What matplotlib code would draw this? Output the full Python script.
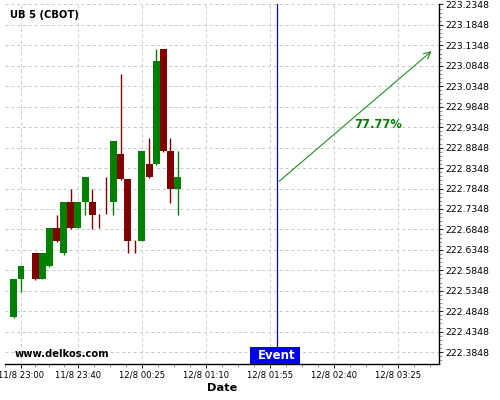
import numpy as np
import pandas as pd
import matplotlib
matplotlib.use("Agg")
import matplotlib.pyplot as plt
import matplotlib.dates as mdates
from matplotlib.patches import Rectangle

# --- data ---
candle_times = pd.date_range("2016-08-11 22:55", periods=24, freq="5min")
opens = [222.4714, 222.5635, 222.5953, 222.6270, 222.5635, 222.5953, 222.6882, 222.6270,
         222.7518, 222.6882, 222.7518, 222.7518, 222.7225, 222.7225, 222.7525, 222.8694,
         222.8083, 222.6588, 222.6564, 222.8447, 222.8447, 223.1258, 222.8765, 222.7843]
closes = [222.5635, 222.5953, 222.5956, 222.5635, 222.6270, 222.6882, 222.6564, 222.7518,
          222.6882, 222.7518, 222.8137, 222.7200, 222.7222, 222.7222, 222.9012, 222.8090,
          222.6572, 222.6585, 222.8765, 222.8129, 223.0965, 222.8765, 222.7843, 222.8129]
highs = [222.5635, 222.5953, 222.5956, 222.6270, 222.6270, 222.6882, 222.7200, 222.7518,
         222.7830, 222.7518, 222.8137, 222.7830, 222.7225, 222.8129, 222.9012, 223.0640,
         222.8083, 222.6588, 222.8765, 222.9083, 223.1250, 223.1258, 222.9083, 222.8757]
lows = [222.4690, 222.5310, 222.5953, 222.5618, 222.5635, 222.5935, 222.6547, 222.6221,
        222.6857, 222.6882, 222.7200, 222.6857, 222.6875, 222.7222, 222.7200, 222.8066,
        222.6264, 222.6264, 222.6564, 222.8105, 222.8423, 222.8741, 222.7500, 222.7193]

event_time = pd.Timestamp("2016-08-12 02:00")
arrow_start = (pd.Timestamp("2016-08-12 02:00"), 222.7982)
arrow_end = (pd.Timestamp("2016-08-12 03:50"), 223.1250)
prob_label = "77.77%"

xtick_times = pd.to_datetime(["2016-08-11 23:00", "2016-08-11 23:40", "2016-08-12 00:25",
                              "2016-08-12 01:10", "2016-08-12 01:55", "2016-08-12 02:40",
                              "2016-08-12 03:25"])
xtick_labels = ["11/8 23:00", "11/8 23:40", "12/8 00:25", "12/8 01:10",
                "12/8 01:55", "12/8 02:40", "12/8 03:25"]
ytick_values = [222.3848, 222.4348, 222.4848, 222.5348, 222.5848, 222.6348, 222.6848,
                222.7348, 222.7848, 222.8348, 222.8848, 222.9348, 222.9848, 223.0348,
                223.0848, 223.1348, 223.1848, 223.2348]

GREEN = "#008000"
RED = "#800000"

fig = plt.figure(figsize=(5, 4), dpi=100)
ax = fig.add_axes([0.01, 0.09, 0.8686, 0.90])

x = mdates.date2num(candle_times)
w = 5 / 1440 * 0.98
o = np.array(opens); c = np.array(closes)
colors = [GREEN if cc >= oo else RED for oo, cc in zip(o, c)]
ax.vlines(x, lows, highs, colors=colors, linewidth=1, zorder=2)
body_h = np.maximum(np.abs(c - o), 0.0012)
ax.bar(x, body_h, bottom=np.minimum(o, c), width=w, color=colors, linewidth=0, zorder=3)

# event line
ex = mdates.date2num(event_time)
ax.axvline(ex, color="#0000dd", linewidth=0.9, zorder=4)

# forecast arrow
ax.annotate("", xy=(mdates.date2num(arrow_end[0]), arrow_end[1]),
            xytext=(mdates.date2num(arrow_start[0]), arrow_start[1]),
            arrowprops=dict(arrowstyle="->", color="#1f8f1f", lw=0.8,
                            mutation_scale=12), zorder=5)
ax.text(mdates.date2num(pd.Timestamp("2016-08-12 03:11")), 222.9425, prob_label,
        color=GREEN, fontsize=8.3, fontweight="bold", ha="center", va="center")

# axes limits / ticks
ax.set_xlim(mdates.date2num(pd.Timestamp("2016-08-11 22:52:30")),
            mdates.date2num(pd.Timestamp("2016-08-12 03:54")))
ax.set_ylim(222.3557, 223.2360)

xt = mdates.date2num(xtick_times)
ax.set_xticks(xt)
ax.set_xticklabels(xtick_labels, fontsize=6.1)
minors = []
for a, b in zip(xt[:-1], xt[1:]):
    minors += list(np.linspace(a, b, 5)[1:-1])
step = (xt[-1] - xt[-2]) / 4
minors += [xt[-1] + step, xt[-1] + 2 * step, xt[0] - step]
ax.set_xticks(minors, minor=True)

ax.yaxis.tick_right()
ax.set_yticks(ytick_values)
ax.set_yticklabels([f"{v:.4f}" for v in ytick_values], fontsize=6.7)
ax.set_yticks(np.arange(222.3648, 223.2360, 0.01), minor=True)

ax.tick_params(axis="both", which="major", length=3, width=0.6, pad=2)
ax.tick_params(axis="both", which="minor", length=2, width=0.5, color="#777777")
ax.tick_params(axis="y", pad=1)

ax.grid(True, which="major", linestyle=(0, (3, 3)), color="#c8c8c8", linewidth=0.7)
ax.set_axisbelow(True)
for s in ["left", "top"]:
    ax.spines[s].set_visible(False)
ax.spines["bottom"].set_linewidth(1)
ax.spines["right"].set_linewidth(1)

ax.set_xlabel("Date", fontsize=8.2, fontweight="bold", labelpad=2)

ax.text(0.0115, 0.969, "UB 5 (CBOT)", transform=ax.transAxes, fontsize=7.2,
        fontweight="bold", ha="left", va="center")
ax.text(0.023, 0.028, "www.delkos.com", transform=ax.transAxes, fontsize=7.2,
        fontweight="bold", ha="left", va="center", zorder=6)

# Event box
ax.add_patch(Rectangle((0.5641, 0.0), 0.1152, 0.047, transform=ax.transAxes,
                       facecolor="#0000ee", edgecolor="none", zorder=6, clip_on=False))
ax.text(ex, 0.0235, "Event", transform=ax.get_xaxis_transform(), color="white",
        fontsize=8.5, fontweight="bold", ha="center", va="center", zorder=7)

fig.savefig("out.png", dpi=100)
